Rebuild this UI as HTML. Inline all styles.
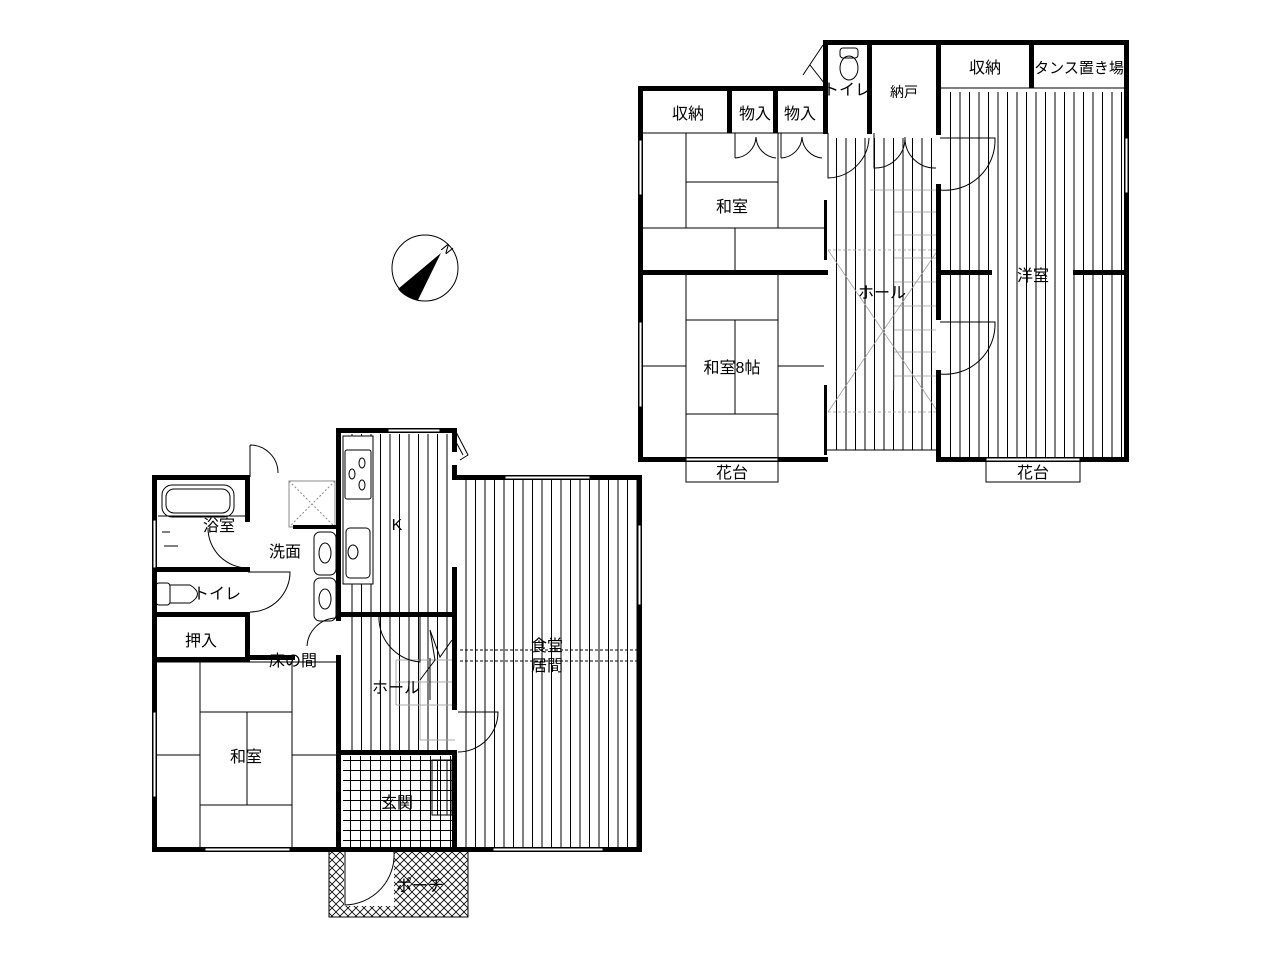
<!DOCTYPE html>
<html><head><meta charset="utf-8"><style>
html,body{margin:0;padding:0;background:#fff;}
svg{display:block;}
text{font-family:"Liberation Sans","Noto Sans CJK JP",sans-serif;font-size:16px;fill:#000;text-anchor:middle;}
</style></head><body>
<svg width="1280" height="961" viewBox="0 0 1280 961" xmlns="http://www.w3.org/2000/svg">
<defs>
<pattern id="st" width="9.5" height="10" patternUnits="userSpaceOnUse"><line x1="0.5" y1="0" x2="0.5" y2="10" stroke="#000" stroke-width="1"/></pattern>
<pattern id="grid" width="10" height="10" patternUnits="userSpaceOnUse"><path d="M0.5 0V10M0 0.5H10" stroke="#000" stroke-width="1" fill="none"/></pattern>
<pattern id="hatch" width="8" height="8" patternUnits="userSpaceOnUse"><path d="M0 0L8 8M8 0L0 8" stroke="#000" stroke-width="0.8" fill="none"/></pattern>
</defs>

<!-- ============ UPPER FLOOR ============ -->
<!-- striped areas -->
<rect x="828" y="138" width="108" height="312" fill="url(#st)"/>
<rect x="942" y="92" width="183" height="366" fill="url(#st)"/>
<rect x="1034" y="46" width="91" height="46" fill="#fff"/>
<!-- stairs in upper hall -->
<g stroke="#999" stroke-width="0.8" fill="none">
<path d="M894 190H936M894 190V390M870 190H894"/>
<path d="M894 212H936M894 235H936M894 258H936M894 282H936M894 306H936M894 330H936M894 352H936M894 376H936"/>
<path d="M828 250H938M828 412H938" stroke-dasharray="3,2"/>
<path d="M828 250L938 412M938 250L828 412"/>
</g>
<!-- tatami lines upper -->
<g stroke="#000" stroke-width="1" fill="none">
<path d="M686 133V228M778 133V228M686 182H778M640 228H824M735 228V272"/>
<path d="M686 272V460M778 272V460M686 320H778M735 320V414M686 414H778M640 366H686M778 366H824"/>
<path d="M640 133H824M940 88H1032"/>
</g>
<!-- walls upper -->
<g fill="#000">
<rect x="638" y="86" width="190" height="5"/>
<rect x="638" y="86" width="5" height="376"/>
<rect x="638" y="457" width="190" height="5"/>
<rect x="823" y="40" width="5" height="94"/>
<rect x="823" y="40" width="306" height="5"/>
<rect x="1124" y="40" width="5" height="422"/>
<rect x="936" y="457" width="193" height="5"/>
<rect x="936" y="40" width="5" height="95"/>
<rect x="936" y="184" width="5" height="136"/>
<rect x="936" y="370" width="5" height="92"/>
<rect x="867" y="40" width="5" height="94"/>
<rect x="1029" y="40" width="5" height="48"/>
<rect x="727" y="86" width="5" height="47"/>
<rect x="773" y="86" width="5" height="47"/>
<rect x="638" y="270" width="190" height="5"/>
<rect x="936" y="270" width="56" height="5"/>
<rect x="1073" y="270" width="56" height="5"/>
<rect x="824" y="200" width="3" height="60"/>
<rect x="824" y="385" width="3" height="70"/>
</g>
<g stroke="#000" fill="none" stroke-width="1">
<path d="M826 450H938M1031 88H1127"/>
<!-- windows upper -->
<rect x="639" y="140" width="3" height="55" fill="#fff"/>
<rect x="639" y="322" width="3" height="85" fill="#fff"/>
<rect x="1125" y="138" width="3" height="55" fill="#fff"/>
<rect x="686" y="458" width="92" height="3" fill="#fff"/>
<rect x="986" y="458" width="94" height="3" fill="#fff"/>
<rect x="686" y="461" width="92" height="21"/>
<rect x="986" y="461" width="94" height="21"/>
<!-- doors -->
<path d="M735 133V158M735 158A22 22 0 0 0 756 137M776 158A22 22 0 0 1 756 137"/>
<path d="M781 133V158M781 158A22 22 0 0 0 802 137M822 158A22 22 0 0 1 802 137"/>
<path d="M828 133V178A42 42 0 0 0 869 138"/>
<path d="M874 133V168A30 30 0 0 0 905 137M936 168A30 30 0 0 1 905 137"/>
<path d="M940 138H995A50 50 0 0 1 940 190"/>
<path d="M940 322H995A50 50 0 0 1 940 374"/>
<path d="M823 45L803 75M810 65L828 88"/>
<!-- toilet -->
<rect x="840" y="48" width="18" height="10" rx="3"/>
<ellipse cx="849" cy="68" rx="9" ry="12"/>
</g>
<text x="688" y="119">収納</text>
<text x="755" y="119">物入</text>
<text x="800" y="119">物入</text>
<text x="847" y="95">トイレ</text>
<text x="904" y="97" style="font-size:14px">納戸</text>
<text x="985" y="73">収納</text>
<text x="1079" y="73" style="font-size:15px">タンス置き場</text>
<text x="732" y="212">和室</text>
<text x="732" y="373">和室8帖</text>
<text x="882" y="298">ホール</text>
<text x="1033" y="281">洋室</text>
<text x="732" y="478">花台</text>
<text x="1033" y="478">花台</text>

<!-- compass -->
<circle cx="425" cy="268" r="33" fill="#fff" stroke="#000" stroke-width="1"/>
<path d="M441 253L398 289A30 30 0 0 0 418 300Z" fill="#000"/>
<text x="446" y="253" style="font-size:13px;font-style:italic" transform="rotate(40 446 250)">N</text>

<!-- ============ LOWER FLOOR ============ -->
<rect x="343" y="434" width="111" height="178" fill="url(#st)"/>
<rect x="343" y="617" width="111" height="133" fill="url(#st)"/>
<rect x="458" y="480" width="180" height="368" fill="url(#st)"/>
<rect x="343" y="756" width="111" height="92" fill="url(#grid)"/>
<rect x="329" y="850" width="139" height="67" fill="url(#hatch)" stroke="#000" stroke-width="1"/>
<rect x="344" y="851" width="50" height="55" fill="#fff"/>
<!-- kitchen counter -->
<rect x="343" y="436" width="30" height="148" fill="#fff" stroke="#000"/>
<g stroke="#000" fill="none" stroke-width="1">
<rect x="345" y="450" width="26" height="49" rx="2"/>
<ellipse cx="352" cy="474" rx="3" ry="5"/><ellipse cx="362" cy="463" rx="3" ry="5"/><ellipse cx="362" cy="485" rx="3" ry="5"/>
<rect x="346" y="528" width="24" height="50" rx="4"/>
<ellipse cx="353" cy="552" rx="5" ry="7"/>
<!-- stairs lower hall -->
<path d="M396 660H455M396 660V705M396 705H430M396 682H455M420 660V740M420 740H455M430 705H455" stroke="#aaa"/>
<path d="M430 630L440 657L452 640M430 630L435 660L420 680M430 658V700" />
<path d="M460 650H638M460 661H638" stroke-dasharray="3,2"/>
<!-- tatami lower -->
<path d="M200 662V850M292 662V850M200 712H292M247 712V805M200 805H292M155 755H200M292 755H338M155 662H338"/>
<!-- 洗面 area -->
<rect x="289" y="481" width="46" height="46" stroke="#888"/>
<path d="M289 481L335 527M335 481L289 527" stroke="#888" stroke-dasharray="2,2"/>
<path d="M250 445V477M250 445A28 28 0 0 1 278 473"/>
<rect x="314" y="532" width="22" height="43" rx="6"/>
<ellipse cx="325" cy="553" rx="6" ry="10"/>
<rect x="314" y="578" width="22" height="43" rx="6"/>
<ellipse cx="325" cy="599" rx="6" ry="10"/>
<path d="M248 568A40 40 0 0 1 208 528"/>
<path d="M248 572H290A40 40 0 0 1 250 612"/>
<path d="M307 646A30 30 0 0 1 337 618"/>
<!-- bath -->
<rect x="162" y="485" width="72" height="32" rx="10"/>
<rect x="166" y="489" width="64" height="24" rx="8"/>
<path d="M158 516H245M162 532H170M164 546H178"/>
<!-- toilet lower -->
<rect x="156" y="583" width="14" height="22" rx="3"/>
<path d="M170 585H190Q205 594 190 603H170"/>
<!-- doors lower -->
<path d="M379 617V620A45 45 0 0 0 420 662V617"/>
<path d="M458 712H498A40 40 0 0 1 458 752"/>
<path d="M345 852V905A50 50 0 0 0 394 852"/>
<path d="M455 430L468 455L460 460M455 440L463 455"/>
<!-- shoe rack -->
<rect x="432" y="760" width="20" height="55" fill="url(#st)"/>
<rect x="432" y="760" width="20" height="55"/>
</g>
<!-- walls lower -->
<g fill="#000">
<rect x="152" y="475" width="5" height="377"/>
<rect x="152" y="475" width="98" height="5"/>
<rect x="152" y="567" width="98" height="5"/>
<rect x="152" y="612" width="98" height="5"/>
<rect x="152" y="657" width="98" height="5"/>
<rect x="245" y="475" width="5" height="47"/>
<rect x="245" y="612" width="5" height="50"/>
<rect x="245" y="655" width="50" height="5"/>
<rect x="293" y="525" width="45" height="4"/>
<rect x="152" y="847" width="490" height="5"/>
<rect x="336" y="428" width="5" height="193"/>
<rect x="336" y="655" width="5" height="195"/>
<rect x="336" y="428" width="120" height="5"/>
<rect x="452" y="428" width="5" height="24"/>
<rect x="452" y="475" width="190" height="5"/>
<rect x="452" y="465" width="5" height="15"/>
<rect x="452" y="567" width="5" height="143"/>
<rect x="452" y="750" width="5" height="100"/>
<rect x="336" y="612" width="120" height="5"/>
<rect x="336" y="750" width="120" height="5"/>
<rect x="637" y="475" width="5" height="377"/>
</g>
<g fill="#fff" stroke="#000" stroke-width="1">
<rect x="388" y="429" width="52" height="3"/>
<rect x="505" y="476" width="85" height="3"/>
<rect x="638" y="525" width="3" height="80"/>
<rect x="153" y="712" width="3" height="85"/>
<rect x="153" y="520" width="3" height="48"/>
<rect x="205" y="848" width="85" height="3"/>
<rect x="493" y="848" width="110" height="3"/>
<rect x="336" y="850" width="5" height="1"/>
</g>
<text x="219" y="531">浴室</text>
<text x="285" y="557">洗面</text>
<text x="217" y="599">トイレ</text>
<text x="201" y="646">押入</text>
<text x="293" y="666">床の間</text>
<text x="246" y="762">和室</text>
<text x="397" y="530">K</text>
<text x="396" y="693">ホール</text>
<text x="547" y="651">食堂</text>
<text x="547" y="671">居間</text>
<text x="397" y="808">玄関</text>
<text x="420" y="891">ポーチ</text>
</svg>
</body></html>
